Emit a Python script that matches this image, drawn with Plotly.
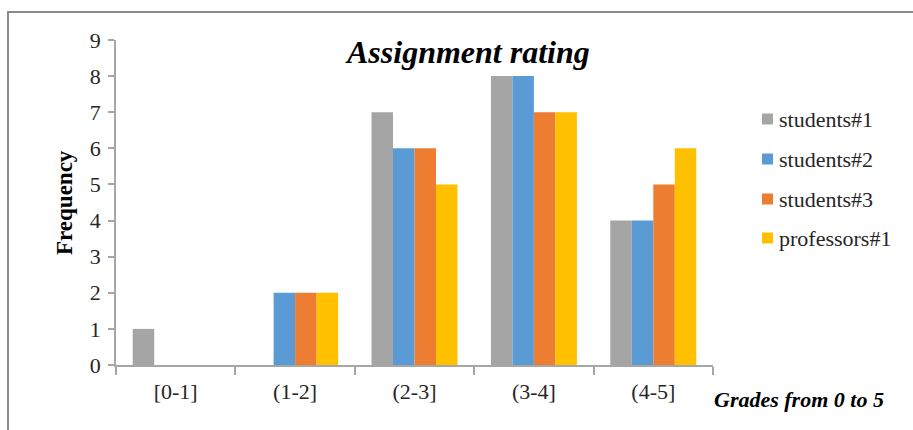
import plotly.graph_objects as go

# Grade bins and the number of ratings that fell into each one
categories = ["[0-1]", "(1-2]", "(2-3]", "(3-4]", "(4-5]"]
students_1 = [1, 0, 7, 8, 4]
students_2 = [0, 2, 6, 8, 4]
students_3 = [0, 2, 6, 7, 5]
professors_1 = [0, 2, 5, 7, 6]

series_names = ["students#1", "students#2", "students#3", "professors#1"]
series_values = [students_1, students_2, students_3, professors_1]
series_colors = ["#A5A5A5", "#5B9BD5", "#ED7D31", "#FFC000"]

W, H = 913, 430
L, R, T, B = 116, 200, 40, 65
PW, PH = W - L - R, H - T - B

def px_x(x):
    return (x - L) / PW

def px_y(y):
    return (H - B - y) / PH

SERIF = "Liberation Serif"
AXIS = "#A6A6A6"
TEXT = "#262626"

fig = go.Figure()
for name, vals, col in zip(series_names, series_values, series_colors):
    fig.add_trace(go.Bar(x=categories, y=vals, name=name, marker_color=col,
                         marker_line_width=0, showlegend=False))

fig.update_layout(
    width=W, height=H,
    margin=dict(l=L, r=R, t=T, b=B),
    paper_bgcolor="white", plot_bgcolor="white",
    barmode="group", bargap=0.28, bargroupgap=0,
    font=dict(family=SERIF, size=22, color=TEXT),
)
fig.update_xaxes(
    showline=True, linecolor=AXIS, linewidth=1.5,
    ticks="outside", tickson="boundaries", ticklen=8, tickcolor=AXIS, tickwidth=1.5,
    tickfont=dict(family=SERIF, size=22, color=TEXT), ticklabelstandoff=6,
    showgrid=False, zeroline=False,
)
fig.update_yaxes(
    range=[0, 9], dtick=1, tick0=0,
    showline=True, linecolor=AXIS, linewidth=1.5,
    ticks="outside", ticklen=6, tickcolor=AXIS, tickwidth=1.5,
    tickfont=dict(family=SERIF, size=22, color=TEXT), ticklabelstandoff=3,
    showgrid=False, zeroline=False,
)

annotations = [
    dict(text="<b><i>Assignment rating</i></b>", x=px_x(467), y=px_y(52),
         font=dict(family=SERIF, size=32, color="black")),
    dict(text="<b>Frequency</b>", x=px_x(65), y=px_y(203), textangle=-90,
         font=dict(family=SERIF, size=23, color="black")),
    dict(text="<b><i>Grades from 0 to 5</i></b>", x=px_x(712), y=px_y(399),
         xanchor="left", font=dict(family=SERIF, size=22, color="black")),
]
shapes = [
    dict(type="rect", xref="paper", yref="paper",
         x0=px_x(8), x1=px_x(W + 20), y0=px_y(H + 20), y1=px_y(12),
         line=dict(color="#8C8C8C", width=2), fillcolor="rgba(0,0,0,0)", layer="below"),
]

# Legend on the right: colour square followed by series name
legend_y = [119, 159, 199, 238]
for name, col, yc in zip(series_names, series_colors, legend_y):
    shapes.append(dict(type="rect", xref="paper", yref="paper",
                       x0=px_x(762), x1=px_x(773), y0=px_y(yc + 5.5), y1=px_y(yc - 5.5),
                       line=dict(width=0), fillcolor=col))
    annotations.append(dict(text=name, x=px_x(777), y=px_y(yc), xanchor="left",
                            font=dict(family=SERIF, size=22, color=TEXT)))

for a in annotations:
    a.setdefault("xref", "paper")
    a.setdefault("yref", "paper")
    a.setdefault("showarrow", False)
    a.setdefault("xanchor", "center")
    a.setdefault("yanchor", "middle")

fig.update_layout(annotations=annotations, shapes=shapes)
fig.write_html("out.html")
